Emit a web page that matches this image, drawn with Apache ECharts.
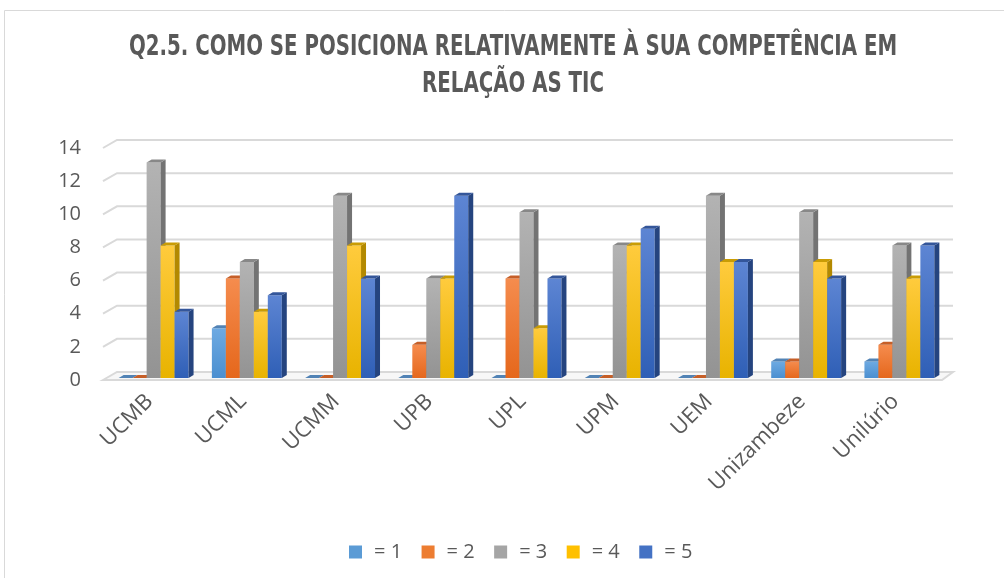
<!DOCTYPE html>
<html>
<head>
<meta charset="utf-8">
<script src="https://cdn.jsdelivr.net/npm/echarts@6/dist/echarts.min.js"></script>
<style>
  html, body { margin: 0; padding: 0; background: #fff; }
  #chart { width: 1004px; height: 578px; }
</style>
</head>
<body>
<div id="chart"></div>
<script>
// dados
var categories = ['UCMB', 'UCML', 'UCMM', 'UPB', 'UPL', 'UPM', 'UEM', 'Unizambeze', 'Unilúrio']
var seriesNames = ['= 1', '= 2', '= 3', '= 4', '= 5']
var nivel1 = [0, 3, 0, 0, 0, 0, 0, 1, 1]
var nivel2 = [0, 6, 0, 2, 6, 0, 0, 1, 2]
var nivel3 = [13, 7, 11, 6, 10, 8, 11, 10, 8]
var nivel4 = [8, 4, 8, 6, 3, 8, 7, 7, 6]
var nivel5 = [4, 5, 6, 11, 6, 9, 7, 6, 8]
var yTicks = [0, 2, 4, 6, 8, 10, 12, 14]

var valores = [nivel1, nivel2, nivel3, nivel4, nivel5]

// cores de cada série: frente (topo, base), lado, tampa, legenda
var cores = [
  { a: '#6eaae2', b: '#4b8fd0', side: '#3c6f9f', top: '#5283b5', leg: '#5b9bd5' },
  { a: '#f58c4e', b: '#e5671c', side: '#ad4f18', top: '#c65f28', leg: '#ed7d31' },
  { a: '#b3b3b3', b: '#939393', side: '#737373', top: '#888888', leg: '#a5a5a5' },
  { a: '#ffcb3d', b: '#e8b300', side: '#b38900', top: '#c99c05', leg: '#ffc000' },
  { a: '#5d85d3', b: '#2f5fb6', side: '#25447f', top: '#34569a', leg: '#4472c4' }
]

var DX = 4, DY = 2 // deslocamento das barras em profundidade
var D = 5, E = 3 // espessura lateral / tampa

function gridItem(params, api) {
  var cs = params.coordSys
  var v = api.value(1)
  var y = api.coord([0, v])[1]
  var x0 = cs.x
  var x1 = cs.x + cs.width
  if (v === 0) {
    return {
      type: 'polygon',
      shape: { points: [[x0, y], [x0 + 14, y - 8], [x1 + 11, y - 8], [x1, y]] },
      style: { fill: '#f7f7f7', stroke: '#d9d9d9', lineWidth: 2 }
    }
  }
  return {
    type: 'polyline',
    shape: { points: [[x0, y], [x0 + 14, y - 8], [x1 + 11, y - 8]] },
    style: { fill: null, stroke: '#d9d9d9', lineWidth: 2 }
  }
}

function barItem(params, api) {
  var k = params.seriesIndex - 1
  var c = cores[k]
  var i = api.value(0)
  var v = api.value(1)
  var base = api.coord([i, 0])
  var top = api.coord([i, v])
  var band = api.size([1, 0])[0]
  var w = band * 0.15
  var x = base[0] - 2.5 * w + k * w + DX
  var y0 = base[1] - DY
  var yt = top[1] - DY
  var children = []
  if (v > 0) {
    children.push({
      type: 'rect',
      shape: { x: x, y: yt, width: w, height: y0 - yt },
      style: {
        fill: new echarts.graphic.LinearGradient(0, 0, 0, 1, [
          { offset: 0, color: c.a }, { offset: 1, color: c.b }
        ])
      }
    })
    children.push({
      type: 'polygon',
      shape: { points: [[x + w, yt], [x + w + D, yt - E], [x + w + D, y0 - E], [x + w, y0]] },
      style: { fill: c.side }
    })
  }
  children.push({
    type: 'polygon',
    shape: { points: [[x, yt], [x + D, yt - E], [x + w + D, yt - E], [x + w, yt]] },
    style: { fill: c.top }
  })
  return { type: 'group', children: children }
}

var series = [{
  type: 'custom',
  name: 'grade',
  silent: true,
  z: 1,
  renderItem: gridItem,
  data: yTicks.map(function (t) { return [0, t] })
}]

seriesNames.forEach(function (n, k) {
  series.push({
    type: 'custom',
    name: n,
    z: 2,
    itemStyle: { color: cores[k].leg },
    renderItem: barItem,
    data: valores[k].map(function (v, i) { return [i, v] })
  })
})

var myChart = echarts.init(document.getElementById('chart'))
var option = {
  animation: false,
  textStyle: { fontFamily: 'Open Sans' },
  graphic: [
    {
      type: 'rect',
      shape: { x: 4.5, y: 10.5, width: 1010, height: 600 },
      style: { fill: null, stroke: '#d9d9d9', lineWidth: 1 },
      z: -1
    },
    {
      type: 'text',
      x: 513,
      y: 66,
      scaleX: 0.785,
      style: {
        text: 'Q2.5. COMO SE POSICIONA RELATIVAMENTE À SUA COMPETÊNCIA EM\nRELAÇÃO AS TIC',
        font: 'bold 28px "DejaVu Sans Condensed"',
        fill: '#595959',
        align: 'center',
        verticalAlign: 'middle',
        lineHeight: 37
      }
    }
  ],
  legend: {
    data: seriesNames,
    top: 537,
    left: 344,
    icon: 'rect',
    itemWidth: 13,
    itemHeight: 13,
    itemGap: 19.5,
    textStyle: { fontSize: 20, color: '#595959', fontFamily: 'Open Sans', padding: [0, 0, 0, 7] }
  },
  grid: { left: 103, right: 62, top: 148, bottom: 198 },
  xAxis: {
    type: 'category',
    data: categories,
    axisLine: { show: false },
    axisTick: { show: false },
    axisLabel: { rotate: 45, margin: 18, fontSize: 22, color: '#595959', interval: 0 }
  },
  yAxis: {
    type: 'value',
    min: 0,
    max: 14,
    interval: 2,
    splitLine: { show: false },
    axisLine: { show: false },
    axisTick: { show: false },
    axisLabel: { fontSize: 20, color: '#595959', margin: 22 }
  },
  series: series
}
option && myChart.setOption(option)
</script>
</body>
</html>
